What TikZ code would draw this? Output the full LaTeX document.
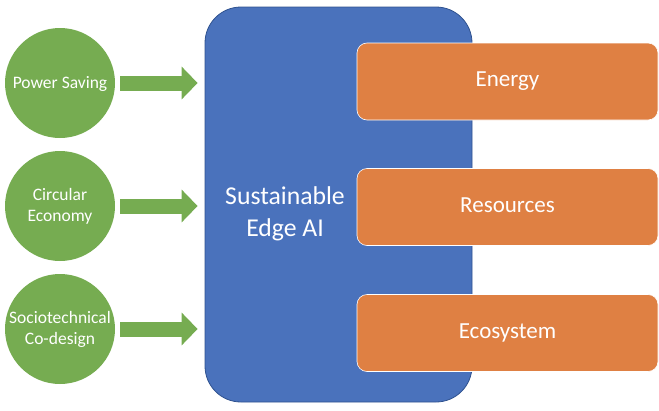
\documentclass[tikz,border=0pt]{standalone}
\usepackage{fontspec}
\setmainfont{Carlito}
\usetikzlibrary{arrows.meta}
\definecolor{cblue}{HTML}{4A72BC}
\definecolor{cblueedge}{HTML}{2F528F}
\definecolor{corange}{HTML}{DF8043}
\definecolor{cgreen}{HTML}{76AC51}
\tikzset{
  bigbox/.style={draw=cblueedge, line width=0.8pt, fill=cblue, rounded corners=36pt,
    minimum width=267pt, minimum height=395pt, inner sep=0pt},
  obox/.style={draw=white, line width=0.6pt, fill=corange, rounded corners=10pt,
    minimum width=301pt, minimum height=77pt, inner sep=0pt, text=white,
    text height=14.8pt, text depth=4pt,
    font=\fontsize{23}{27}\selectfont},
  gcirc/.style={circle, fill=cgreen, minimum size=110pt, inner sep=0pt, text=white,
    align=center, font=\fontsize{17.5}{21}\selectfont},
  garrow/.style={draw=cgreen, line width=15pt, -{Triangle[length=16pt,width=32pt]}},
  titletext/.style={text=white, align=center, font=\fontsize{25.7}{32}\selectfont}
}
\begin{document}
\begin{tikzpicture}[x=1pt,y=-1pt]
\useasboundingbox (0,0) rectangle (659,410);
\node[bigbox] (blue) at (338.5,204.5) {};
\node[titletext] (title) at (285,214) {Sustainable\\Edge AI};
\node[obox] (energy) at (507.5,81.5) {Energy};
\node[obox] (resources) at (507.5,207) {Resources};
\node[obox] (ecosystem) at (507.5,333) {Ecosystem};
\node[gcirc, text height=11.3pt, text depth=1pt] (c1) at (60,83) {Power Saving};
\node[gcirc] (c2) at (60,206) {Circular\\Economy};
\node[gcirc] (c3) at (60,329) {Sociotechnical\\Co-design};
\draw[garrow] ([xshift=5pt]c1.east) -- ([xshift=-7pt]c1.east -| blue.west);
\draw[garrow] ([xshift=5pt]c2.east) -- ([xshift=-7pt]c2.east -| blue.west);
\draw[garrow] ([xshift=5pt]c3.east) -- ([xshift=-7pt]c3.east -| blue.west);
\end{tikzpicture}
\end{document}
